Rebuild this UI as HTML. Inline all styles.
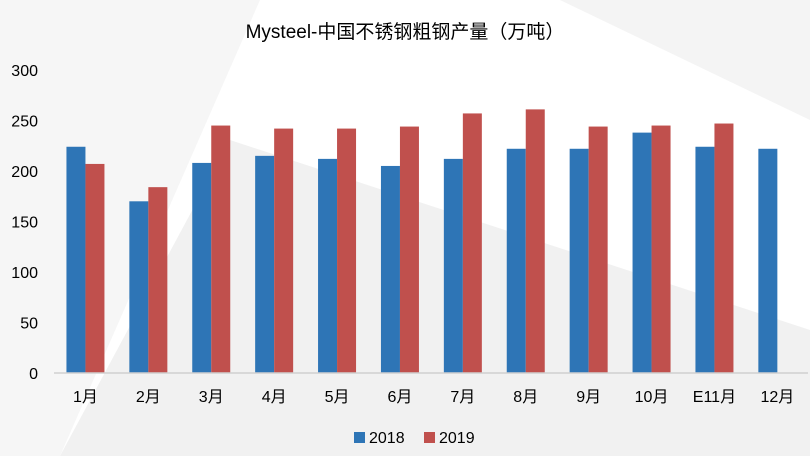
<!DOCTYPE html>
<html><head><meta charset="utf-8"><style>
body{margin:0;width:810px;height:456px;overflow:hidden;background:#fff;font-family:"Liberation Sans","Noto Sans CJK SC",sans-serif}
</style></head><body>
<svg width="810" height="456" xmlns="http://www.w3.org/2000/svg">
<polygon points="0,0 260,0 60,456 0,456" fill="#f6f6f6"/>
<polygon points="60,456 230,140 810,330 810,456" fill="#f1f1f1"/>
<polygon points="560,0 810,0 810,120" fill="#f4f4f4"/>
<text x="405" y="38" text-anchor="middle" font-size="19" fill="#000">Mysteel-中国不锈钢粗钢产量（万吨）</text>
<g id="yaxis"></g>
<g id="bars"></g>
<g id="xaxis"></g>
<g>
<rect x="354" y="432" width="11" height="11" fill="#2e75b6"/>
<text x="369" y="443" font-size="16">2018</text>
<rect x="424" y="432" width="11" height="11" fill="#c0504d"/>
<text x="439" y="443" font-size="16">2019</text>
</g>
</svg>
<script>
const categories=["1月","2月","3月","4月","5月","6月","7月","8月","9月","10月","E11月","12月"];
const series2018=[224,170,208,215,212,205,212,222,222,238,224,222];
const series2019=[207,184,245,242,242,244,257,261,244,245,247,null];
const yTicks=[0,50,100,150,200,250,300];
const NS="http://www.w3.org/2000/svg";
const x0=54,step=62.9,y0=373,ppu=303/300;
const y=v=>y0-v*ppu;
const cx=i=>x0+step*(i+0.5);
function mk(t,a,p){const e=document.createElementNS(NS,t);for(const k in a)e.setAttribute(k,a[k]);p.appendChild(e);return e;}
const ya=document.getElementById('yaxis'),ba=document.getElementById('bars'),xa=document.getElementById('xaxis');
yTicks.forEach(v=>{const t=mk('text',{x:38,y:y(v)+6,'text-anchor':'end','font-size':16,fill:'#000'},ya);t.textContent=v;

});
const ax=mk('line',{x1:x0,x2:808,y1:y0,y2:y0,stroke:'#d0d0d0','stroke-width':1.5},xa);


categories.forEach((c,i)=>{
const t=mk('text',{x:cx(i),y:402,'text-anchor':'middle','font-size':16,fill:'#000'},xa);t.textContent=c;


const w=19;
if(series2018[i]!=null){const r=mk('rect',{x:cx(i)-w,y:y(series2018[i]),width:w,height:series2018[i]*ppu,fill:'#2e75b6'},ba);

}
if(series2019[i]!=null){const r=mk('rect',{x:cx(i),y:y(series2019[i]),width:w,height:series2019[i]*ppu,fill:'#c0504d'},ba);

}
});
</script>
</body></html>
